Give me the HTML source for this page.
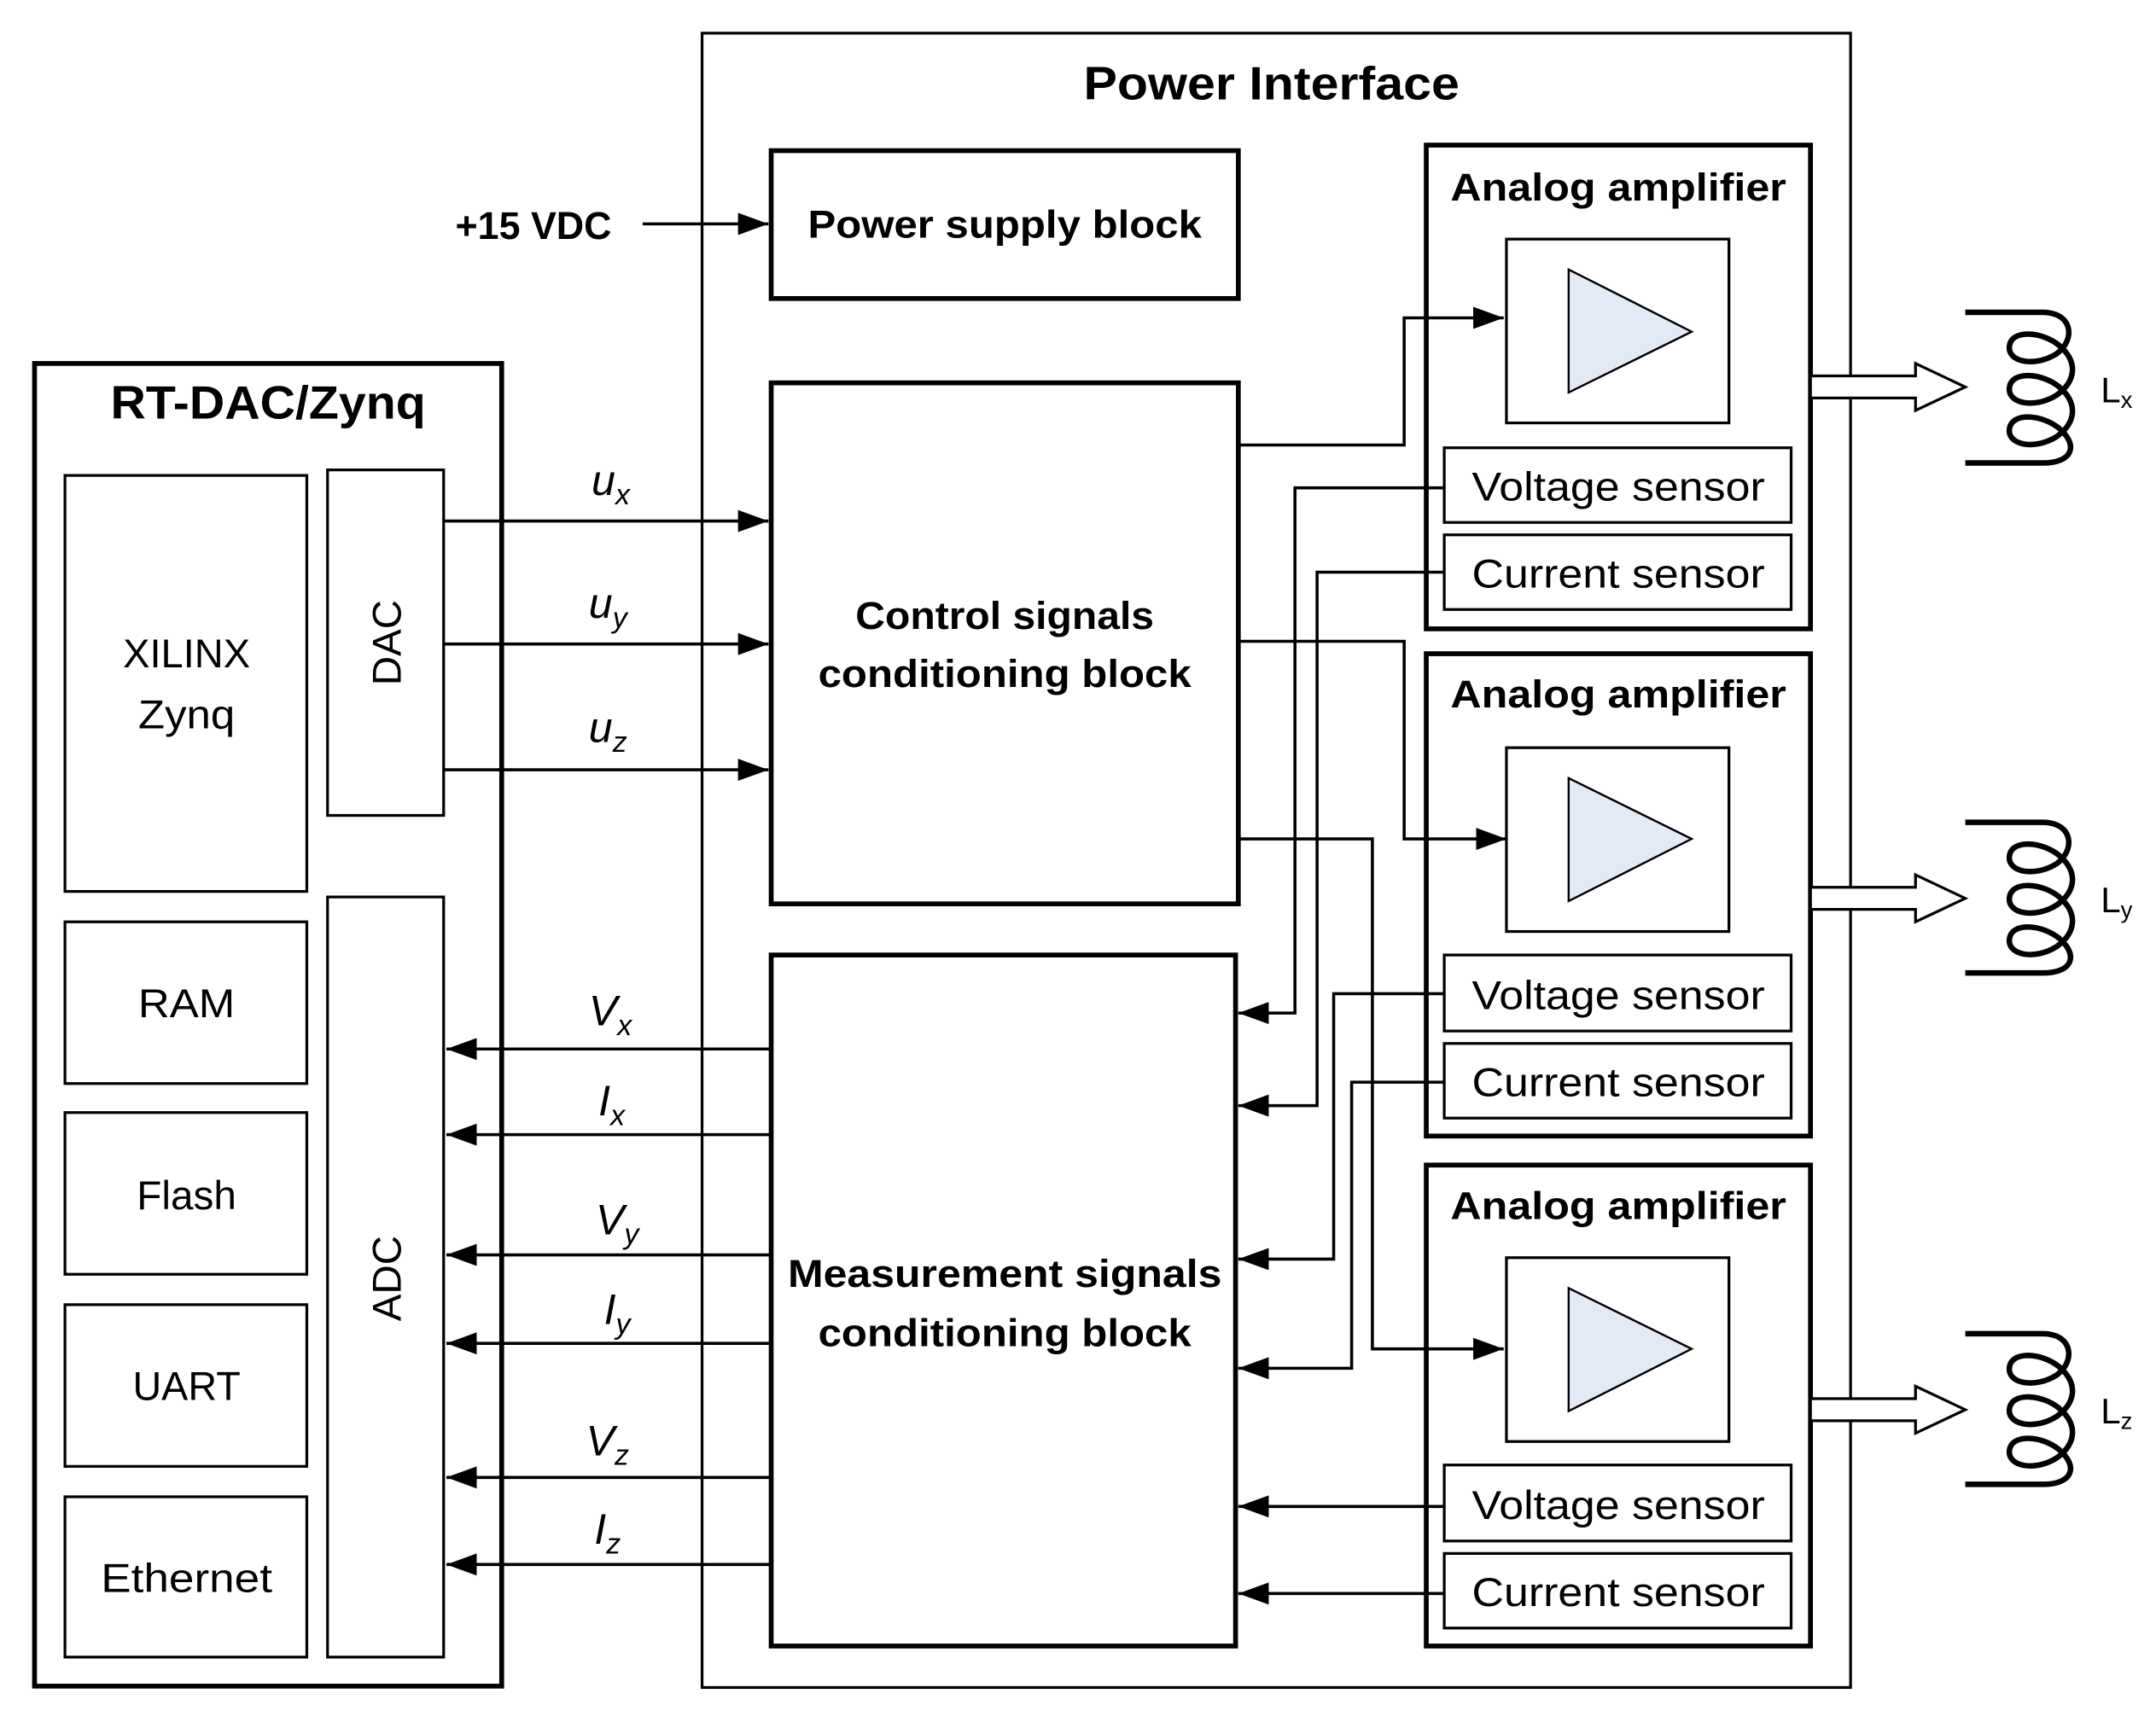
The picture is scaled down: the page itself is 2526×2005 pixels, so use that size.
<!DOCTYPE html>
<html><head><meta charset="utf-8"><style>
html,body{margin:0;padding:0;background:#fff;}
svg{display:block;}
text{font-family:"Liberation Sans",sans-serif;fill:#000;}
.b{font-weight:bold;}
</style></head><body>
<svg width="2526" height="2005" viewBox="0 0 1560 1238" preserveAspectRatio="none" xmlns="http://www.w3.org/2000/svg">
<defs>
<marker id="ah" markerWidth="24" markerHeight="18" refX="22" refY="8" orient="auto" markerUnits="userSpaceOnUse">
<path d="M0,0 L22,8 L0,16 Z" fill="#000"/>
</marker>
</defs>
<g fill="none" stroke="#000">
<rect x="508" y="24" width="831" height="1197" stroke-width="2"/>
<rect x="25" y="263" width="338" height="957" stroke-width="3.5"/>
<rect x="47" y="344" width="175" height="301" stroke-width="2"/>
<rect x="237" y="340" width="84" height="250" stroke-width="2"/>
<rect x="237" y="649" width="84" height="550" stroke-width="2"/>
<rect x="47" y="667" width="175" height="117" stroke-width="2"/>
<rect x="47" y="805" width="175" height="117" stroke-width="2"/>
<rect x="47" y="944" width="175" height="117" stroke-width="2"/>
<rect x="47" y="1083" width="175" height="116" stroke-width="2"/>
<rect x="558" y="109" width="338" height="107" stroke-width="3.5"/>
<rect x="558" y="277" width="338" height="377" stroke-width="3.5"/>
<rect x="558" y="691" width="336" height="500" stroke-width="3.5"/>
<rect x="1032" y="105" width="278" height="350" stroke-width="3.5"/>
<rect x="1032" y="473" width="278" height="349" stroke-width="3.5"/>
<rect x="1032" y="843" width="278" height="348" stroke-width="3.5"/>
<rect x="1090" y="173" width="161" height="133" stroke-width="2"/>
<rect x="1090" y="541" width="161" height="133" stroke-width="2"/>
<rect x="1090" y="910" width="161" height="133" stroke-width="2"/>
<rect x="1045" y="324" width="251" height="54" stroke-width="2"/>
<rect x="1045" y="387" width="251" height="54" stroke-width="2"/>
<rect x="1045" y="691" width="251" height="55" stroke-width="2"/>
<rect x="1045" y="755" width="251" height="54" stroke-width="2"/>
<rect x="1045" y="1060" width="251" height="55" stroke-width="2"/>
<rect x="1045" y="1124" width="251" height="54" stroke-width="2"/>
<polygon points="1135,195 1224,240 1135,284" fill="#e3eaf6" stroke-width="1.5"/>
<polygon points="1135,563 1224,607 1135,652" fill="#e3eaf6" stroke-width="1.5"/>
<polygon points="1135,932 1224,976 1135,1021" fill="#e3eaf6" stroke-width="1.5"/>
<polygon points="1310,272 1386,272 1386,263 1422,280 1386,297 1386,288 1310,288" fill="#fff" stroke-width="2"/>
<polygon points="1310,642 1386,642 1386,633 1422,650 1386,667 1386,658 1310,658" fill="#fff" stroke-width="2"/>
<polygon points="1310,1012 1386,1012 1386,1003 1422,1020 1386,1037 1386,1028 1310,1028" fill="#fff" stroke-width="2"/>
<g stroke-width="4">
<path d="M1422,226 H1478 C1500,226 1502,246 1488,256 C1472,266 1452,262 1454,250 C1456,238 1478,240 1490,250 C1504,262 1502,276 1488,286 C1472,296 1452,292 1454,280 C1456,268 1478,270 1490,280 C1504,292 1502,306 1488,316 C1472,326 1452,322 1454,310 C1456,298 1478,300 1490,310 C1504,322 1500,335 1478,335 H1422"/>
<path d="M1422,226 H1478 C1500,226 1502,246 1488,256 C1472,266 1452,262 1454,250 C1456,238 1478,240 1490,250 C1504,262 1502,276 1488,286 C1472,296 1452,292 1454,280 C1456,268 1478,270 1490,280 C1504,292 1502,306 1488,316 C1472,326 1452,322 1454,310 C1456,298 1478,300 1490,310 C1504,322 1500,335 1478,335 H1422" transform="translate(0,369)"/>
<path d="M1422,226 H1478 C1500,226 1502,246 1488,256 C1472,266 1452,262 1454,250 C1456,238 1478,240 1490,250 C1504,262 1502,276 1488,286 C1472,296 1452,292 1454,280 C1456,268 1478,270 1490,280 C1504,292 1502,306 1488,316 C1472,326 1452,322 1454,310 C1456,298 1478,300 1490,310 C1504,322 1500,335 1478,335 H1422" transform="translate(0,739)"/>
</g>
<g stroke-width="2.2">
<path d="M465,162 H556" marker-end="url(#ah)"/>
<path d="M321,377 H556" marker-end="url(#ah)"/>
<path d="M321,466 H556" marker-end="url(#ah)"/>
<path d="M321,557 H556" marker-end="url(#ah)"/>
<path d="M558,759 H323" marker-end="url(#ah)"/>
<path d="M558,821 H323" marker-end="url(#ah)"/>
<path d="M558,908 H323" marker-end="url(#ah)"/>
<path d="M558,972 H323" marker-end="url(#ah)"/>
<path d="M558,1069 H323" marker-end="url(#ah)"/>
<path d="M558,1132 H323" marker-end="url(#ah)"/>
<path d="M896,322 H1016 V230 H1088" marker-end="url(#ah)"/>
<path d="M896,464 H1016 V607 H1090" marker-end="url(#ah)"/>
<path d="M896,607 H993 V976 H1088" marker-end="url(#ah)"/>
<path d="M1045,353 H937 V733 H896" marker-end="url(#ah)"/>
<path d="M1045,414 H953 V800 H896" marker-end="url(#ah)"/>
<path d="M1045,719 H965 V911 H896" marker-end="url(#ah)"/>
<path d="M1045,783 H978 V990 H896" marker-end="url(#ah)"/>
<path d="M1045,1090 H896" marker-end="url(#ah)"/>
<path d="M1045,1153 H896" marker-end="url(#ah)"/>
</g>
</g>
<text class="b" x="920" y="72" font-size="34" text-anchor="middle" textLength="272" lengthAdjust="spacingAndGlyphs">Power Interface</text>
<text class="b" x="194" y="303" font-size="34" text-anchor="middle" textLength="228" lengthAdjust="spacingAndGlyphs">RT-DAC/Zynq</text>
<text class="b" x="386" y="173" font-size="28" text-anchor="middle" textLength="113" lengthAdjust="spacingAndGlyphs">+15 VDC</text>
<text class="b" x="727" y="172" font-size="28" text-anchor="middle" textLength="285" lengthAdjust="spacingAndGlyphs">Power supply block</text>
<text class="b" x="727" y="455" font-size="28" text-anchor="middle" textLength="216" lengthAdjust="spacingAndGlyphs">Control signals</text>
<text class="b" x="727" y="497" font-size="28" text-anchor="middle" textLength="270" lengthAdjust="spacingAndGlyphs">conditioning block</text>
<text class="b" x="727" y="931" font-size="28" text-anchor="middle" textLength="314" lengthAdjust="spacingAndGlyphs">Measurement signals</text>
<text class="b" x="727" y="974" font-size="28" text-anchor="middle" textLength="270" lengthAdjust="spacingAndGlyphs">conditioning block</text>
<g font-size="28" text-anchor="middle">
<text class="b" x="1171" y="145" textLength="243" lengthAdjust="spacingAndGlyphs">Analog amplifier</text>
<text class="b" x="1171" y="512" textLength="243" lengthAdjust="spacingAndGlyphs">Analog amplifier</text>
<text class="b" x="1171" y="882" textLength="243" lengthAdjust="spacingAndGlyphs">Analog amplifier</text>
</g>
<g font-size="29" text-anchor="middle">
<text x="1171" y="362" textLength="212" lengthAdjust="spacingAndGlyphs">Voltage sensor</text>
<text x="1171" y="425" textLength="212" lengthAdjust="spacingAndGlyphs">Current sensor</text>
<text x="1171" y="730" textLength="212" lengthAdjust="spacingAndGlyphs">Voltage sensor</text>
<text x="1171" y="793" textLength="212" lengthAdjust="spacingAndGlyphs">Current sensor</text>
<text x="1171" y="1099" textLength="212" lengthAdjust="spacingAndGlyphs">Voltage sensor</text>
<text x="1171" y="1162" textLength="212" lengthAdjust="spacingAndGlyphs">Current sensor</text>
</g>
<g font-size="29" text-anchor="middle">
<text x="135" y="483" textLength="92" lengthAdjust="spacingAndGlyphs">XILINX</text>
<text x="135" y="527" textLength="70" lengthAdjust="spacingAndGlyphs">Zynq</text>
<text x="135" y="736" textLength="70" lengthAdjust="spacingAndGlyphs">RAM</text>
<text x="135" y="875" textLength="72" lengthAdjust="spacingAndGlyphs">Flash</text>
<text x="135" y="1013" textLength="78" lengthAdjust="spacingAndGlyphs">UART</text>
<text x="135" y="1152" textLength="124" lengthAdjust="spacingAndGlyphs">Ethernet</text>
<text x="280" y="465" transform="rotate(-90 280 465)" dy="10" textLength="62" lengthAdjust="spacingAndGlyphs">DAC</text>
<text x="280" y="925" transform="rotate(-90 280 925)" dy="10" textLength="62" lengthAdjust="spacingAndGlyphs">ADC</text>
</g>
<g font-size="31" font-style="italic">
<text x="428" y="358">u<tspan font-size="21" dy="7">x</tspan></text>
<text x="426" y="447">u<tspan font-size="21" dy="7">y</tspan></text>
<text x="426" y="537">u<tspan font-size="21" dy="7">z</tspan></text>
<text x="426" y="742">V<tspan font-size="21" dy="7">x</tspan></text>
<text x="433" y="807">I<tspan font-size="21" dy="7">x</tspan></text>
<text x="431" y="893">V<tspan font-size="21" dy="7">y</tspan></text>
<text x="437" y="958">I<tspan font-size="21" dy="7">y</tspan></text>
<text x="424" y="1053">V<tspan font-size="21" dy="7">z</tspan></text>
<text x="430" y="1117">I<tspan font-size="21" dy="7">z</tspan></text>
</g>
<g font-size="26">
<text x="1520" y="291">L<tspan font-size="17" dy="4">x</tspan></text>
<text x="1520" y="660">L<tspan font-size="17" dy="4">y</tspan></text>
<text x="1520" y="1030">L<tspan font-size="17" dy="4">z</tspan></text>
</g>
</svg>
</body></html>
